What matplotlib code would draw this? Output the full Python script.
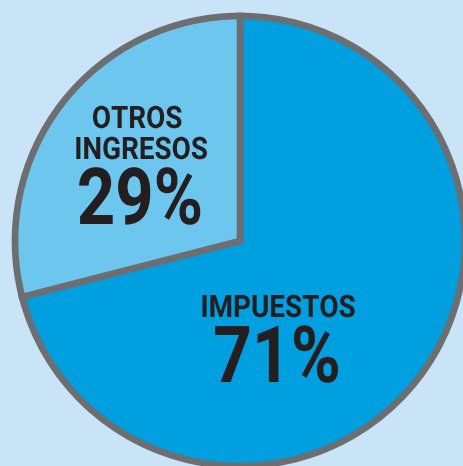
import matplotlib.pyplot as plt
from matplotlib.patheffects import AbstractPathEffect
from matplotlib.transforms import Affine2D

# Data
labels = ['IMPUESTOS', 'OTROS\nINGRESOS']
values = [71, 29]
colors = ['#009FE0', '#6DC6EE']

bg = '#C8E4F6'
edge = '#6D6E71'
ink = '#231F20'


class Squeeze(AbstractPathEffect):
    # narrow the glyphs horizontally around the anchor (condensed look)
    def __init__(self, cx, sx):
        super().__init__()
        self.cx, self.sx = cx, sx

    def draw_path(self, renderer, gc, tpath, affine, rgbFace=None):
        t = affine + Affine2D().translate(-self.cx, 0).scale(self.sx, 1).translate(self.cx, 0)
        renderer.draw_path(gc, tpath, t, rgbFace)


W, H = 464, 466
fig = plt.figure(figsize=(W / 100, H / 100), dpi=100, facecolor=bg)
ax = fig.add_axes([0, 0, 1, 1])

# pie in pixel coords (y measured from bottom)
ax.pie(values, colors=colors, startangle=90, counterclock=False,
       center=(240, H - 241), radius=225, frame=True,
       wedgeprops=dict(edgecolor=edge, linewidth=4.8))
ax.set_xlim(0, W)
ax.set_ylim(0, H)
ax.set_aspect('equal')
ax.axis('off')


def label(x, y_base, s, px, sx):
    # px = cap height in pixels
    size = px / 0.711 * 72 / 100
    ax.text(x, H - y_base, s, ha='center', va='baseline', family='Roboto',
            fontweight='bold', fontsize=size, color=ink,
            path_effects=[Squeeze(x, sx)])


label(137, 128, 'OTROS', 22, 0.9)
label(141, 159, 'INGRESOS', 22, 0.9)
label(140, 224, f'{values[1]}%', 56, 0.85)
label(278, 317, 'IMPUESTOS', 22, 0.9)
label(277, 382, f'{values[0]}%', 56, 0.86)

fig.savefig('out.png', dpi=100, facecolor=bg)
